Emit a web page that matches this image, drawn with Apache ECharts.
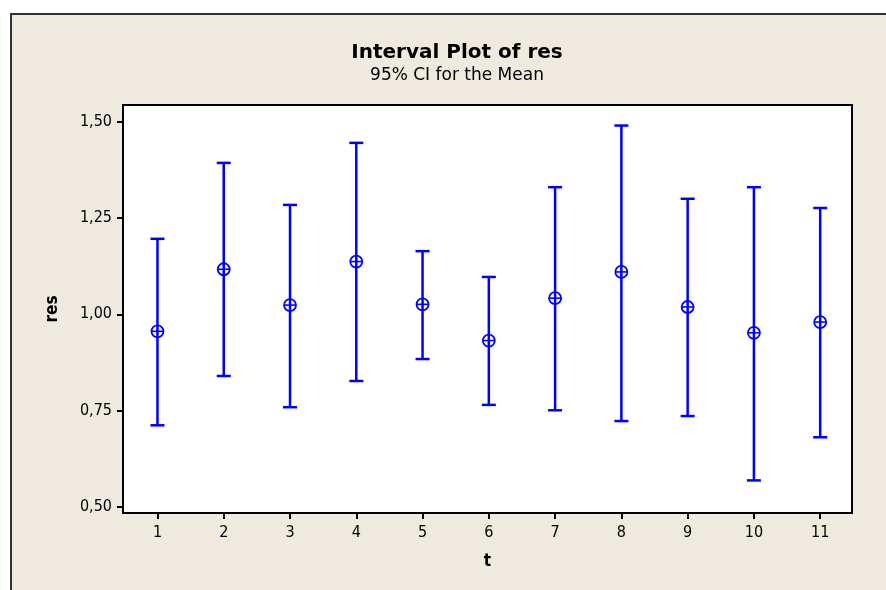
<!DOCTYPE html>
<html>
<head>
<meta charset="utf-8">
<script src="https://cdn.jsdelivr.net/npm/echarts@6/dist/echarts.min.js"></script>
<style>
html,body{margin:0;padding:0;background:#ffffff;}
#c{width:886px;height:590px;}
</style>
</head>
<body>
<div id="c"></div>
<script>
var categories = [1, 2, 3, 4, 5, 6, 7, 8, 9, 10, 11];
var meanValues  = [0.956, 1.117, 1.024, 1.137, 1.026, 0.932, 1.042, 1.110, 1.019, 0.952, 0.980];
var upperValues = [1.196, 1.393, 1.284, 1.445, 1.164, 1.097, 1.330, 1.490, 1.300, 1.330, 1.276];
var lowerValues = [0.712, 0.840, 0.759, 0.827, 0.884, 0.765, 0.751, 0.723, 0.736, 0.569, 0.681];
var yTicks = [0.50, 0.75, 1.00, 1.25, 1.50];
var xTicks = [1, 2, 3, 4, 5, 6, 7, 8, 9, 10, 11];

var data = categories.map(function (c, i) {
  return [c, lowerValues[i], meanValues[i], upperValues[i]];
});

var FONT = '"DejaVu Sans Condensed", "DejaVu Sans", sans-serif';
var TFONT = '"DejaVu Sans", sans-serif';
var BLUE = '#0000ff';

var chart = echarts.init(document.getElementById('c'), null, {renderer: 'canvas'});
chart.setOption({
  backgroundColor: '#ffffff',
  animation: false,
  graphic: [{
    type: 'rect', z: -10, silent: true,
    shape: {x: 11, y: 14, width: 900, height: 600},
    style: {fill: '#eeeae0', stroke: '#303030', lineWidth: 2}
  }],
  title: {
    text: 'Interval Plot of res',
    subtext: '95% CI for the Mean',
    left: 452, top: 38, textAlign: 'center',
    itemGap: 4,
    textStyle: {fontFamily: TFONT, fontWeight: 'bold', fontSize: 20, color: '#000'},
    subtextStyle: {fontFamily: TFONT, fontSize: 17, color: '#000'}
  },
  grid: {
    left: 123, top: 105, width: 729, height: 408,
    show: true, backgroundColor: '#ffffff', borderColor: '#000', borderWidth: 2
  },
  xAxis: {
    type: 'value', min: 0.48, max: 11.48,
    name: 't', nameLocation: 'middle', nameGap: 40,
    nameTextStyle: {fontFamily: FONT, fontWeight: 'bold', fontSize: 17, color: '#000'},
    splitLine: {show: false},
    axisLine: {show: true, lineStyle: {color: '#000', width: 2}},
    axisTick: {show: true, length: 6, customValues: xTicks, lineStyle: {color: '#000', width: 2}},
    axisLabel: {customValues: xTicks, margin: 12, fontFamily: FONT, fontSize: 16, color: '#000'}
  },
  yAxis: {
    type: 'value', min: 0.4844, max: 1.5433,
    name: 'res', nameLocation: 'middle', nameGap: 62, nameRotate: 90,
    nameTextStyle: {fontFamily: FONT, fontWeight: 'bold', fontSize: 17, color: '#000'},
    splitLine: {show: false},
    axisLine: {show: true, lineStyle: {color: '#000', width: 2}},
    axisTick: {show: true, length: 6, customValues: yTicks, lineStyle: {color: '#000', width: 2}},
    axisLabel: {
      customValues: yTicks, margin: 11, fontFamily: FONT, fontSize: 16, color: '#000',
      formatter: function (v) { return v.toFixed(2).replace('.', ','); }
    }
  },
  series: [{
    type: 'custom',
    data: data,
    encode: {x: 0, y: [1, 2, 3]},
    renderItem: function (params, api) {
      var x = api.value(0);
      var lo = api.coord([x, api.value(1)]);
      var mn = api.coord([x, api.value(2)]);
      var hi = api.coord([x, api.value(3)]);
      var cap = 7, r = 6;
      var ls = {stroke: BLUE, lineWidth: 2.5};
      var ms = {stroke: BLUE, lineWidth: 1.6, fill: null};
      return {
        type: 'group',
        children: [
          {type: 'line', shape: {x1: lo[0], y1: lo[1], x2: hi[0], y2: hi[1]}, style: ls},
          {type: 'line', shape: {x1: hi[0] - cap, y1: hi[1], x2: hi[0] + cap, y2: hi[1]}, style: ls},
          {type: 'line', shape: {x1: lo[0] - cap, y1: lo[1], x2: lo[0] + cap, y2: lo[1]}, style: ls},
          {type: 'circle', shape: {cx: mn[0], cy: mn[1], r: r}, style: {stroke: BLUE, lineWidth: 1.8, fill: 'none'}},
          {type: 'line', shape: {x1: mn[0] - r, y1: mn[1], x2: mn[0] + r, y2: mn[1]}, style: ms}
        ]
      };
    }
  }]
});
</script>
</body>
</html>
